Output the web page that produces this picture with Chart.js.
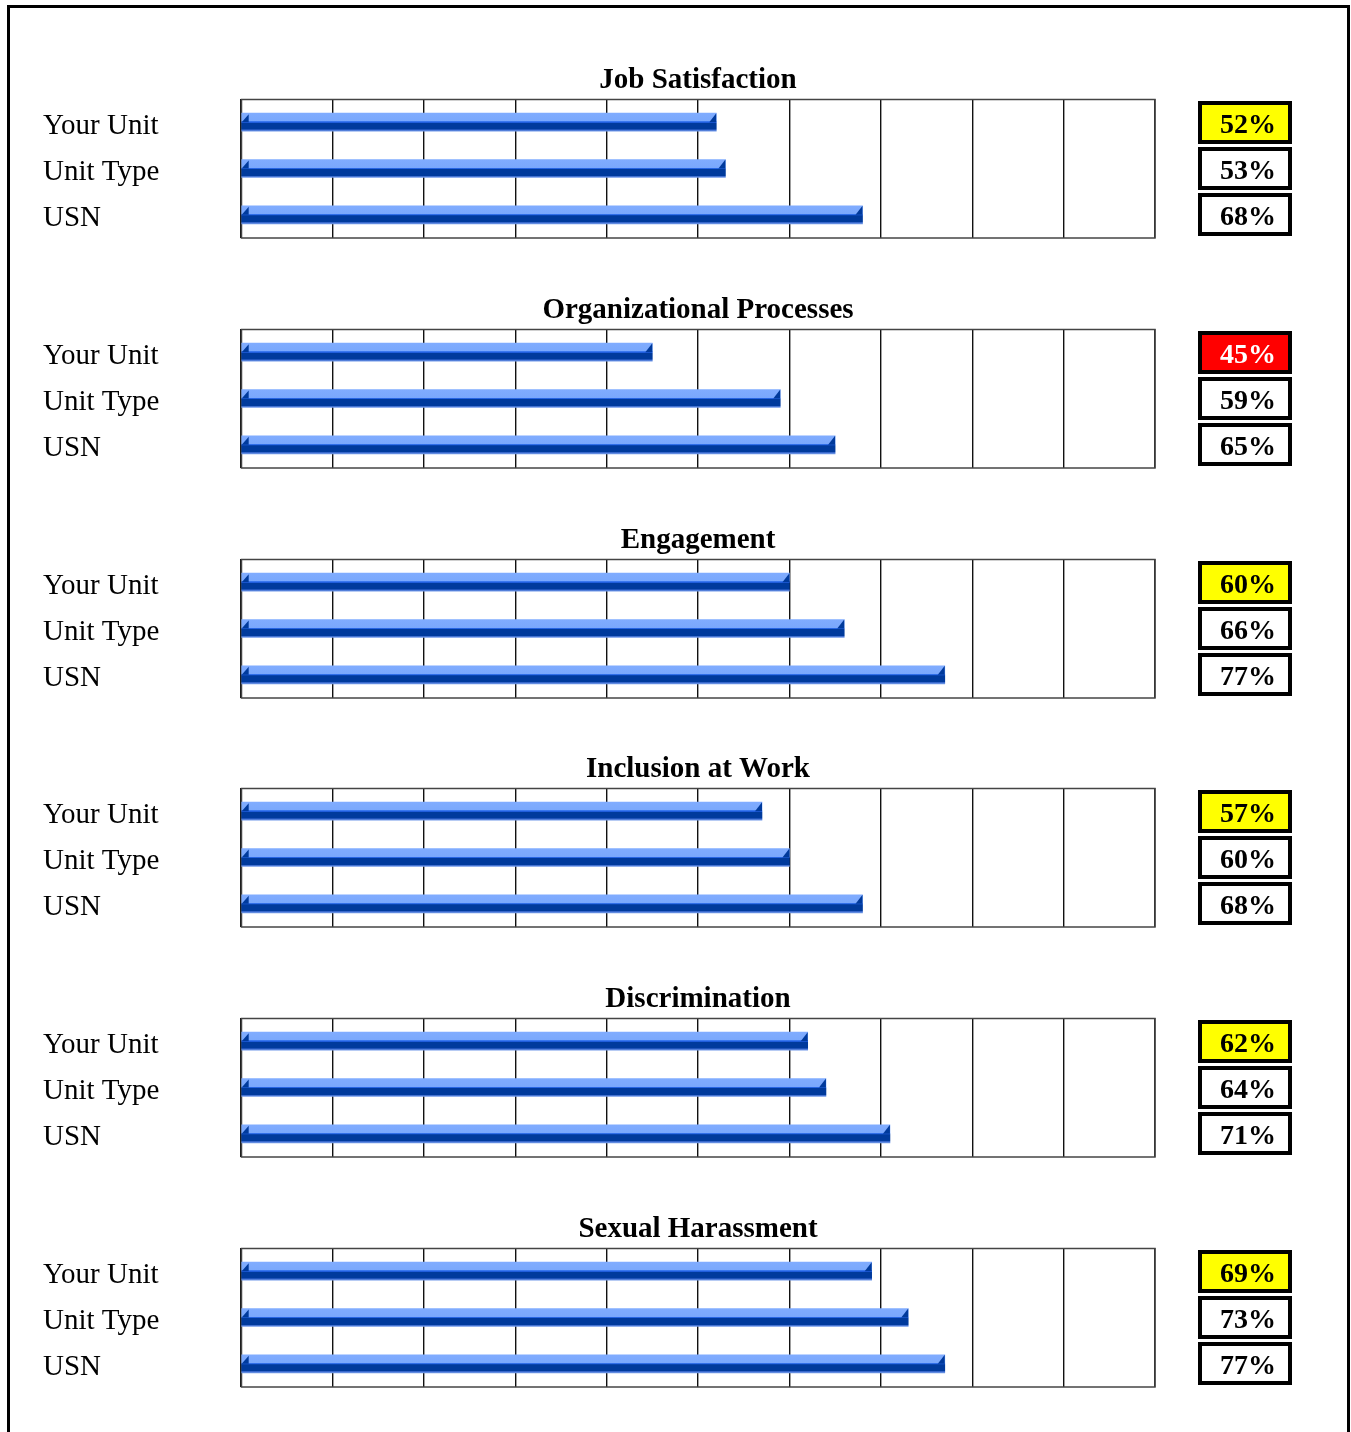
<!DOCTYPE html>
<html>
<head>
<meta charset="utf-8">
<script src="https://cdn.jsdelivr.net/npm/chart.js@4/dist/chart.umd.min.js"></script>
<style>
  html, body { margin: 0; padding: 0; background: #fff; }
  body { width: 1351px; height: 1432px; position: relative; overflow: hidden; }
  #frame { position: absolute; left: 7px; top: 5px; width: 1337px; height: 1450px; border: 3px solid #000; }
  canvas.panel { position: absolute; left: 10px; }
</style>
</head>
<body>
<div id="frame"></div>
<div id="host"></div>
<script>
// ---- data ----
const categories = ['Your Unit', 'Unit Type', 'USN'];
const panelTitles = ['Job Satisfaction', 'Organizational Processes', 'Engagement', 'Inclusion at Work', 'Discrimination', 'Sexual Harassment'];
const jobSatisfaction = [52, 53, 68];
const organizationalProcesses = [45, 59, 65];
const engagement = [60, 66, 77];
const inclusionAtWork = [57, 60, 68];
const discrimination = [62, 64, 71];
const sexualHarassment = [69, 73, 77];
const yourUnitStatus = ['caution', 'alert', 'caution', 'caution', 'caution', 'caution'];
const xTickValues = [0, 10, 20, 30, 40, 50, 60, 70, 80, 90, 100];

const panelValues = [jobSatisfaction, organizationalProcesses, engagement, inclusionAtWork, discrimination, sexualHarassment];

// ---- styles ----
const SERIF = '"Liberation Serif", "Times New Roman", serif';
const statusFill = { caution: '#ffff00', alert: '#ff0000' };
const statusText = { caution: '#000000', alert: '#ffffff' };

function barGradient(ctx) {
  const chart = ctx.chart;
  const ys = chart.scales && chart.scales.y;
  if (!ys || !chart.chartArea) return '#2a5fd0';
  const yc = ys.getPixelForValue(ctx.dataIndex);
  const h = 18;
  const g = chart.ctx.createLinearGradient(0, yc - h / 2, 0, yc + h / 2);
  g.addColorStop(0.00, '#80acff');
  g.addColorStop(0.45, '#7aa8fc');
  g.addColorStop(0.46, '#3a78f0');
  g.addColorStop(0.53, '#1a58d8');
  g.addColorStop(0.54, '#003a9c');
  g.addColorStop(0.90, '#003a9c');
  g.addColorStop(0.91, '#2a5cc4');
  g.addColorStop(1.00, '#7098e8');
  return g;
}

const panelPlugin = {
  id: 'panelDeco',
  beforeDatasetsDraw(chart, args, opts) {
    const a = chart.chartArea, c = chart.ctx;
    c.save();
    c.strokeStyle = '#444';
    c.lineWidth = 1.5;
    c.strokeRect(a.left + 0.5, a.top + 0.5, a.right - a.left - 0.5, a.bottom - a.top - 0.5);
    c.restore();
  },
  afterDatasetsDraw(chart, args, opts) {
    const c = chart.ctx;
    const meta = chart.getDatasetMeta(0);
    c.save();
    c.fillStyle = '#003a9c';
    meta.data.forEach(el => {
      const p = el.getProps(['x', 'y', 'base', 'height'], true);
      const top = p.y - p.height / 2;
      const mid = top + p.height * 0.5;
      c.beginPath();
      c.moveTo(p.x - 7, mid); c.lineTo(p.x, top); c.lineTo(p.x, mid); c.closePath(); c.fill();
      c.beginPath();
      c.moveTo(p.base, mid); c.lineTo(p.base + 7, top + 1); c.lineTo(p.base + 7, mid); c.closePath(); c.fill();
    });
    c.restore();
  },
  afterDraw(chart, args, opts) {
    const a = chart.chartArea, c = chart.ctx;
    const ys = chart.scales.y;
    c.save();
    // title
    c.fillStyle = '#000';
    c.font = 'bold 29px ' + SERIF;
    c.textAlign = 'center';
    c.textBaseline = 'alphabetic';
    c.fillText(opts.title, (a.left + a.right) / 2, a.top - 11);
    // value boxes
    const vals = chart.data.datasets[0].data;
    const bx = a.right + 43, bw = 94, bh = 43;
    vals.forEach((v, i) => {
      const yc = ys.getPixelForValue(i);
      const top = Math.round(yc - bh / 2);
      const fill = i === 0 ? statusFill[opts.status] : '#ffffff';
      const tcol = i === 0 ? statusText[opts.status] : '#000000';
      c.fillStyle = fill;
      c.fillRect(bx, top, bw, bh);
      c.strokeStyle = '#000';
      c.lineWidth = 4;
      c.strokeRect(bx + 2, top + 2, bw - 4, bh - 4);
      c.fillStyle = tcol;
      c.font = 'bold 28px ' + SERIF;
      c.textAlign = 'center';
      c.textBaseline = 'middle';
      c.fillText(v + '%', bx + bw / 2 + 3, top + bh / 2 + 3);
    });
    c.restore();
  }
};

const host = document.getElementById('host');
panelValues.forEach((vals, idx) => {
  const cv = document.createElement('canvas');
  cv.className = 'panel';
  cv.width = 1330; cv.height = 220;
  cv.style.width = '1330px'; cv.style.height = '220px';
  cv.style.top = Math.round(40 + idx * 229.8) + 'px';
  host.appendChild(cv);
  new Chart(cv, {
    type: 'bar',
    data: {
      labels: categories,
      datasets: [{
        data: vals,
        backgroundColor: barGradient,
        borderWidth: 0,
        barThickness: 18
      }]
    },
    plugins: [panelPlugin],
    options: {
      indexAxis: 'y',
      responsive: false,
      animation: false,
      devicePixelRatio: 1,
      layout: { padding: { left: 33, right: 185, top: 59, bottom: 22 } },
      plugins: {
        legend: { display: false },
        tooltip: { enabled: false },
        title: { display: false },
        panelDeco: { title: panelTitles[idx], status: yourUnitStatus[idx] }
      },
      scales: {
        x: {
          type: 'linear',
          min: xTickValues[0],
          max: xTickValues[xTickValues.length - 1],
          afterBuildTicks: s => { s.ticks = xTickValues.map(v => ({ value: v })); },
          ticks: { display: false },
          grid: { color: '#111', lineWidth: 1.4, drawTicks: false },
          border: { display: false },
          afterFit: s => { s.height = 0; }
        },
        y: {
          grid: { display: false },
          border: { display: false },
          ticks: {
            crossAlign: 'far',
            color: '#000',
            labelOffset: 4,
            font: { family: SERIF, size: 29 }
          },
          afterFit: s => { s.width = 198; }
        }
      }
    }
  });
});
</script>
</body>
</html>
